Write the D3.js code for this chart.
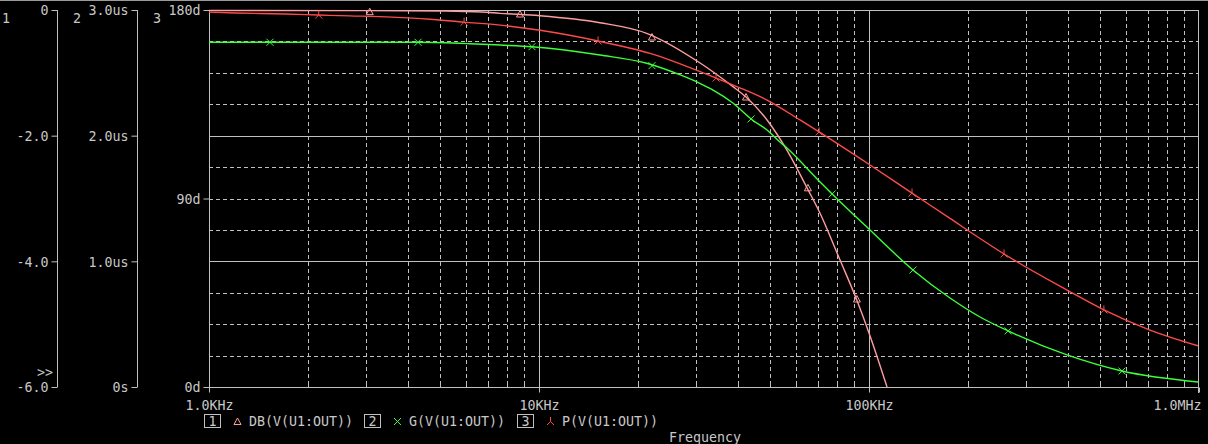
<!DOCTYPE html>
<html><head><meta charset="utf-8">
<script src="https://cdn.jsdelivr.net/npm/d3@7"></script>
<style>html,body{margin:0;padding:0;background:#000;overflow:hidden}svg{display:block}</style>
</head><body><svg id="c" width="1208" height="444"></svg>
<script>
// ---- data (frequency in kHz) ----
const dbFreq = [1, 2.97, 5.19, 6.72, 7.62, 10.07, 15.3, 21.2, 30.7, 38.7, 42.4, 49.1, 56.4, 64.9, 71.0, 81.7, 91.9, 100, 113.4];
const dbVal  = [-0.008, -0.01, -0.016, -0.032, -0.053, -0.091, -0.202, -0.371, -0.84, -1.22, -1.385, -1.75, -2.23, -2.83, -3.23, -3.98, -4.62, -5.14, -6.0];

const gFreq = [1, 4.30, 6.18, 7.62, 9.52, 15.3, 21.2, 26.8, 30.7, 33.7, 38.7, 43.9, 49.1, 53.7, 56.4, 70.1, 77.3, 100.7, 135.9, 176, 217, 264, 398, 584, 993];
const gVal  = [2.743, 2.743, 2.732, 2.721, 2.708, 2.642, 2.576, 2.483, 2.417, 2.363, 2.26, 2.133, 2.045, 1.950, 1.902, 1.647, 1.536, 1.249, 0.931, 0.708, 0.557, 0.446, 0.255, 0.127, 0.040];

const pFreq = [1, 1.2, 1.7, 2.14, 2.67, 3.58, 4.67, 5.93, 7.62, 10.07, 15.1, 21.7, 34.4, 40.1, 49.1, 61.8, 70.6, 100.7, 135, 176, 217, 256.6, 398, 515, 710, 993];
const pVal  = [179.0, 178.6, 178.1, 177.6, 177.2, 176.6, 175.6, 174.2, 172.8, 170.3, 165.2, 159.3, 147.5, 143.2, 137.0, 127.5, 121.8, 106.0, 92.6, 80.5, 70.9, 63.5, 46.3, 36.8, 27.2, 19.7];

const dbMarkFreq = [3.07, 8.76, 22.0, 42.4, 65.3, 91.9];
const dbMarkVal  = [-0.027, -0.064, -0.43, -1.385, -2.83, -4.6];
const gMarkFreq = [1.53, 4.30, 9.52, 22.0, 43.9, 77.3, 135.9, 264, 584];
const gMarkVal  = [2.743, 2.743, 2.708, 2.557, 2.133, 1.536, 0.931, 0.446, 0.127];
const pMarkFreq = [2.15, 5.93, 15.1, 34.4, 70.6, 135, 256.6, 515];
const pMarkVal  = [177.6, 174.2, 165.2, 147.5, 121.8, 92.6, 63.5, 36.8];

const xTickVals = [1, 10, 100, 1000];
const xTickLabels = ["1.0KHz", "10KHz", "100KHz", "1.0MHz"];
const dbTicks = [0, -2, -4, -6];
const dbTickLabels = ["0", "-2.0", "-4.0", "-6.0"];
const gTicks = [0, 1, 2, 3];
const gTickLabels = ["0s", "1.0us", "2.0us", "3.0us"];
const pTicks = [0, 90, 180];
const pTickLabels = ["0d", "90d", "180d"];
const legendNames = ["DB(V(U1:OUT))", "G(V(U1:OUT))", "P(V(U1:OUT))"];

// ---- layout ----
const L = 209, R = 1199, T = 10, B = 387;
const GRID = "#c0c0c0", TXT = "#c8c8c8";
const C_DB = "#ff9e9e", C_G = "#3cff3c", C_P = "#ff4a4a";
const FONT = "'DejaVu Sans Mono', 'Liberation Mono', monospace";

const svg = d3.select("#c");
svg.append("rect").attr("width", 1208).attr("height", 444).attr("fill", "#000");
svg.append("line").attr("x1", 0).attr("x2", 1208).attr("y1", 0.5).attr("y2", 0.5)
  .attr("stroke", "#9a9a9a").attr("stroke-width", 1);

const x = d3.scaleLog().domain([1, 1000]).range([L, R]);
const yDB = d3.scaleLinear().domain([-6, 0]).range([B, T]);
const yG = d3.scaleLinear().domain([0, 3]).range([B, T]);
const yP = d3.scaleLinear().domain([0, 180]).range([B, T]);

const grid = svg.append("g").attr("shape-rendering", "crispEdges");
// vertical grid
const minorF = [];
[1, 10, 100].forEach(d => { for (let k = 2; k <= 9; k++) minorF.push(d * k); });
grid.selectAll("line.vm").data(minorF).join("line")
  .attr("x1", d => Math.round(x(d)) + 0.5).attr("x2", d => Math.round(x(d)) + 0.5)
  .attr("y1", T).attr("y2", B).attr("stroke", GRID).attr("stroke-dasharray", "4,3");
grid.selectAll("line.vM").data([10, 100]).join("line")
  .attr("x1", d => Math.round(x(d)) + 0.5).attr("x2", d => Math.round(x(d)) + 0.5)
  .attr("y1", T).attr("y2", B + 5).attr("stroke", GRID);
// right border
grid.append("line").attr("x1", R - 0.5).attr("x2", R - 0.5).attr("y1", T).attr("y2", B + 6).attr("stroke", GRID);
// horizontal grid: twelfths of the DB axis range
const hFrac = d3.range(1, 12);
grid.selectAll("line.h").data(hFrac).join("line")
  .attr("x1", L).attr("x2", R)
  .attr("y1", d => Math.round(yDB(-6 * d / 12)) + 0.5).attr("y2", d => Math.round(yDB(-6 * d / 12)) + 0.5)
  .attr("stroke", GRID).attr("stroke-dasharray", d => (d % 4 === 0) ? null : "4,3");
grid.append("line").attr("x1", L).attr("x2", R).attr("y1", T + 0.5).attr("y2", T + 0.5).attr("stroke", GRID);

// x axis
const xAxis = d3.axisBottom(x).tickValues(xTickVals).tickSize(5).tickPadding(6)
  .tickFormat((d, i) => xTickLabels[i]);
const gx = svg.append("g").attr("transform", `translate(0,${B + 0.5})`).call(xAxis);
gx.select(".domain").attr("stroke", GRID).attr("d", `M${L},0H${R}`);
gx.selectAll(".tick line").attr("stroke", GRID);
gx.selectAll("text").attr("fill", TXT).attr("font-family", FONT).attr("font-size", "13.3px")
  .attr("dy", "0.9em")
  .attr("text-anchor", (d, i) => i === xTickVals.length - 1 ? "end" : "middle")
  .attr("dx", (d, i) => i === xTickVals.length - 1 ? "2" : "0");
// minor x ticks on the axis
svg.append("g").selectAll("line").data(minorF).join("line")
  .attr("x1", d => Math.round(x(d)) + 0.5).attr("x2", d => Math.round(x(d)) + 0.5)
  .attr("y1", B - 6).attr("y2", B).attr("stroke", GRID);

function leftAxis(scale, ticks, labels, xpos) {
  const ax = d3.axisLeft(scale).tickValues(ticks).tickSize(6).tickPadding(3)
    .tickFormat((d, i) => labels[i]);
  const g = svg.append("g").attr("transform", `translate(${xpos + 0.5},0)`).call(ax);
  g.select(".domain").attr("stroke", GRID).attr("d", `M0,${T}V${B}`);
  g.selectAll(".tick line").attr("stroke", GRID);
  g.selectAll("text").attr("fill", TXT).attr("font-family", FONT).attr("font-size", "13.3px").attr("dy", "0.36em");
  return g;
}
leftAxis(yDB, dbTicks, dbTickLabels, 57);
leftAxis(yG, gTicks, gTickLabels, 137);
leftAxis(yP, pTicks, pTickLabels, L);

const txt = (s, tx, ty, anchor) => svg.append("text").text(s).attr("x", tx).attr("y", ty)
  .attr("fill", TXT).attr("font-family", FONT).attr("font-size", "13.3px")
  .attr("text-anchor", anchor || "start");
txt("1", 2, 23); txt("2", 73, 23); txt("3", 153, 23);
txt(">>", 37, 377);

// curves
svg.append("clipPath").attr("id", "clip").append("rect")
  .attr("x", L).attr("y", T - 2).attr("width", R - L).attr("height", B - T + 2);
const plot = svg.append("g").attr("clip-path", "url(#clip)");

function curve(fr, vals, ys, color) {
  const pts = fr.map((f, i) => [f, vals[i]]);
  plot.append("path").datum(pts)
    .attr("d", d3.line().x(d => x(d[0])).y(d => ys(d[1])).curve(d3.curveMonotoneX))
    .attr("fill", "none").attr("stroke", color).attr("stroke-width", 1.4);
}
curve(dbFreq, dbVal, yDB, C_DB);
curve(gFreq, gVal, yG, C_G);
curve(pFreq, pVal, yP, C_P);

const sym = {
  tri: "M0,-3.5L3.5,3L-3.5,3Z",
  x: "M-3.5,-3.5L3.5,3.5M-3.5,3.5L3.5,-3.5",
  y: "M0,-4.5L0,0L-3.5,3.5M0,0L3.5,3.5"
};
function markers(fr, vals, ys, color, s) {
  plot.append("g").selectAll("path").data(fr.map((f, i) => [f, vals[i]])).join("path")
    .attr("transform", d => `translate(${x(d[0])},${ys(d[1])})`)
    .attr("d", sym[s]).attr("fill", "none").attr("stroke", color).attr("stroke-width", 1);
}
markers(dbMarkFreq, dbMarkVal, yDB, C_DB, "tri");
markers(gMarkFreq, gMarkVal, yG, C_G, "x");
markers(pMarkFreq, pMarkVal, yP, C_P, "y");

// legend
const legX = [204, 364, 517];
const legSym = ["tri", "x", "y"];
const legCol = [C_DB, C_G, C_P];
legendNames.forEach((name, i) => {
  const g = svg.append("g").attr("transform", `translate(${legX[i]},0)`);
  g.append("rect").attr("x", 0.5).attr("y", 414.5).attr("width", 16).attr("height", 13)
    .attr("fill", "none").attr("stroke", GRID).attr("shape-rendering", "crispEdges");
  g.append("text").text(i + 1).attr("x", 8.5).attr("y", 425.5).attr("text-anchor", "middle")
    .attr("fill", TXT).attr("font-family", FONT).attr("font-size", "13.3px");
  g.append("path").attr("transform", `translate(${33.5},${421.5})`).attr("d", sym[legSym[i]])
    .attr("fill", "none").attr("stroke", legCol[i]);
  g.append("text").text(name).attr("x", 45).attr("y", 425.5)
    .attr("fill", TXT).attr("font-family", FONT).attr("font-size", "13.3px");
});
txt("Frequency", 669, 442);
</script></body></html>
